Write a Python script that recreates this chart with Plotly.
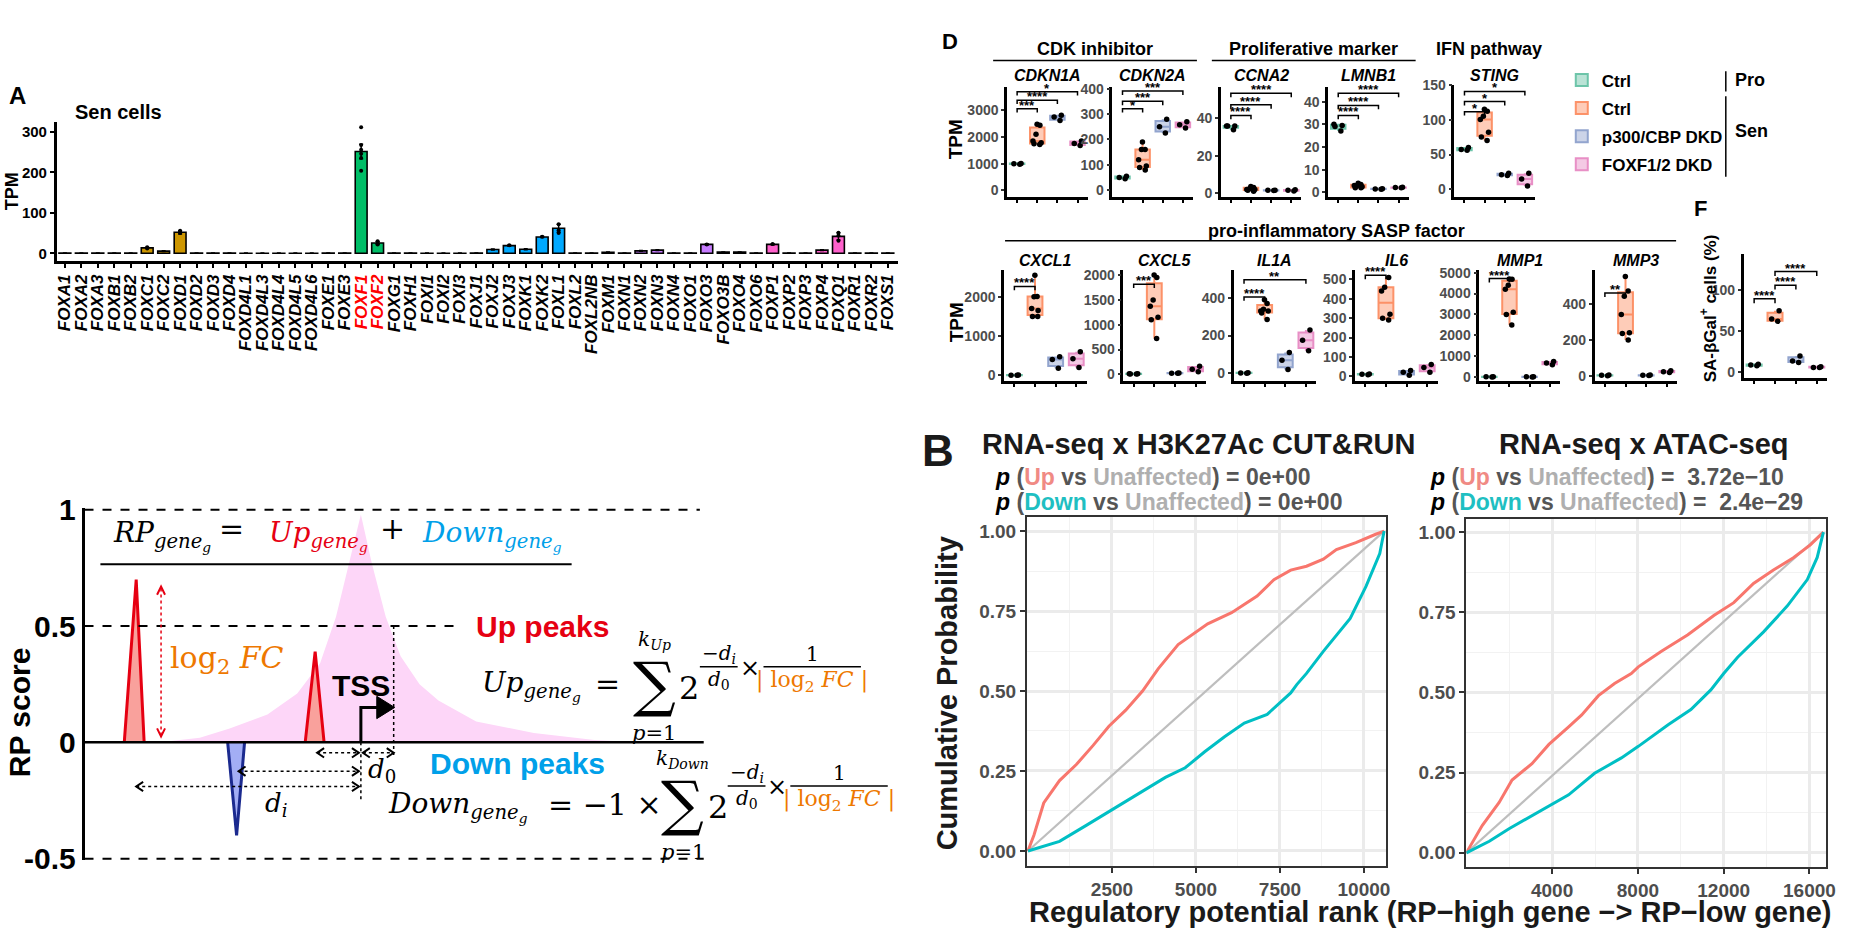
import plotly.graph_objects as go

W, H = 1872, 952
SANS = "Liberation Sans, Arial, Helvetica, sans-serif"
SERIF = "DejaVu Serif, Liberation Serif, serif"

# ---------------- Panel A : FOX genes in Sen cells ----------------
fox_genes = ["FOXA1", "FOXA2", "FOXA3", "FOXB1", "FOXB2", "FOXC1", "FOXC2", "FOXD1", "FOXD2", "FOXD3",
             "FOXD4", "FOXD4L1", "FOXD4L3", "FOXD4L4", "FOXD4L5", "FOXD4L6", "FOXE1", "FOXE3", "FOXF1", "FOXF2",
             "FOXG1", "FOXH1", "FOXI1", "FOXI2", "FOXI3", "FOXJ1", "FOXJ2", "FOXJ3", "FOXK1", "FOXK2",
             "FOXL1", "FOXL2", "FOXL2NB", "FOXM1", "FOXN1", "FOXN2", "FOXN3", "FOXN4", "FOXO1", "FOXO3",
             "FOXO3B", "FOXO4", "FOXO6", "FOXP1", "FOXP2", "FOXP3", "FOXP4", "FOXQ1", "FOXR1", "FOXR2", "FOXS1"]
tpm_mean = [0.5, 0.4, 0.4, 0.4, 0.6, 13.5, 5.5, 52, 0.5, 0.4,
            0.5, 0.3, 0.3, 0.3, 0.3, 0.3, 0.4, 0.4, 252, 25.5,
            0.4, 0.5, 0.3, 0.3, 0.3, 0.4, 9.5, 19, 10, 40.5,
            62, 0.5, 0.6, 2.5, 0.4, 6, 8, 0.4, 0.6, 22,
            3, 3, 0.5, 22, 0.5, 0.4, 8, 42, 0.4, 0.4, 0.4]
tpm_sd = [0.2, 0.2, 0.2, 0.2, 0.2, 1.5, 1.0, 4, 0.2, 0.2,
          0.2, 0.2, 0.2, 0.2, 0.2, 0.2, 0.2, 0.2, 18, 4,
          0.2, 0.2, 0.2, 0.2, 0.2, 0.2, 1.0, 1.5, 1.0, 1.5,
          10, 0.2, 0.2, 0.5, 0.2, 0.8, 0.8, 0.2, 0.2, 1.5,
          0.5, 0.5, 0.2, 1.5, 0.2, 0.2, 1.0, 9, 0.2, 0.2, 0.2]
pt_gene = ["FOXC1", "FOXC1", "FOXD1", "FOXD1", "FOXD1", "FOXF1", "FOXF1", "FOXF1", "FOXF1", "FOXF1", "FOXF1",
           "FOXF2", "FOXF2", "FOXF2", "FOXJ3", "FOXK2", "FOXL1", "FOXL1", "FOXL1", "FOXO3", "FOXP1",
           "FOXQ1", "FOXQ1", "FOXQ1"]
pt_tpm = [12, 15, 50, 56, 52, 312, 268, 256, 246, 236, 204,
          30, 22, 25, 20, 41, 72, 57, 50, 22, 23,
          51, 44, 31]
highlight_genes = ["FOXF1", "FOXF2"]
family_colors = ["#F8766D", "#CD9600", "#7CAE00", "#00BE67", "#00BFC4", "#00A9FF", "#C77CFF", "#FF61CC"]
family_of_letter = {"A": 0, "B": 0, "C": 1, "D": 1, "E": 2, "F": 3, "G": 4, "H": 4, "I": 4,
                    "J": 5, "K": 5, "L": 5, "M": 6, "N": 6, "O": 6, "P": 7, "Q": 7, "R": 7, "S": 7}

# ---------------- Panel D / F : boxplots ----------------
group_labels = ["Ctrl", "Ctrl", "p300/CBP DKD", "FOXF1/2 DKD"]
group_colors = ["#66C2A5", "#FC8D62", "#8DA0CB", "#E78AC3"]
CDKN1A = [[980, 1000, 1010], [2480, 2440, 2100, 1850, 1780, 1750, 1720], [2620, 2820, 2750], [1680, 1850, 1760]]
CDKN2A = [[45, 55, 50], [190, 160, 160, 120, 95, 90, 80], [280, 225, 250], [270, 245, 258]]
CCNA2 = [[34, 36, 36, 36], [1, 2, 3, 2, 1.5, 2.5, 3.5], [1.5, 1.6, 1.4], [1.2, 1.8, 1.5]]
LMNB1 = [[30, 29, 27, 29.5], [2, 3.5, 3, 2.5, 4, 2, 3], [1.5, 1.6, 1.4], [2, 2.2, 2.1]]
STING = [[57, 60, 56], [115, 112, 105, 100, 82, 75, 70], [20, 23, 21], [5, 23, 15]]
CXCL1 = [[5, 0, 3], [2550, 2010, 2000, 1700, 1650, 1500, 1500], [470, 180, 400], [600, 200, 420]]
CXCL5 = [[10, 5, 12, 8], [2000, 1950, 1500, 1370, 1150, 1100, 720], [20, 25, 22], [160, 50, 100]]
IL1A = [[2, 1, 3], [390, 370, 340, 330, 330, 320, 285], [110, 20, 70], [230, 120, 175]]
IL6 = [[10, 8, 12], [510, 460, 440, 320, 300, 290], [30, 5, 20], [60, 20, 45]]
MMP1 = [[20, 25, 15], [4700, 4680, 4400, 4200, 3100, 3000, 2500], [20, 15, 18], [750, 600, 680]]
MMP3 = [[5, 3, 6], [550, 470, 440, 340, 240, 235, 200], [5, 4, 6], [30, 20, 25]]
SA_bGal = [[8, 9, 10], [62, 65, 75], [20, 12, 14], [6, 7, 6]]

# ---------------- Panel B : cumulative distributions ----------------
rank_up_L = [0, 180, 470, 940, 1440, 1940, 2410, 2910, 3410, 3880, 4470, 5350, 6060, 6820, 7320, 7820, 8290, 8790, 9180, 9760, 10350, 10600]
cum_up_L = [0, 0.05, 0.15, 0.22, 0.27, 0.33, 0.39, 0.44, 0.50, 0.57, 0.645, 0.71, 0.745, 0.797, 0.848, 0.878, 0.89, 0.912, 0.942, 0.964, 0.99, 1.0]
rank_dn_L = [0, 940, 1735, 2530, 3290, 4090, 4680, 5260, 5850, 6440, 7120, 7410, 7820, 8000, 8290, 8790, 9590, 10060, 10470, 10600]
cum_dn_L = [0, 0.03, 0.08, 0.13, 0.18, 0.23, 0.26, 0.31, 0.357, 0.40, 0.427, 0.454, 0.494, 0.52, 0.555, 0.624, 0.727, 0.827, 0.93, 1.0]
rank_un_L = [0, 10600]
cum_un_L = [0, 1.0]
rank_up_R = [0, 740, 1530, 2130, 3060, 3850, 4770, 5380, 6160, 6910, 7690, 8020, 9080, 10330, 11540, 12470, 13390, 14320, 15250, 16040, 16650]
cum_up_R = [0, 0.085, 0.157, 0.227, 0.278, 0.338, 0.393, 0.43, 0.49, 0.528, 0.559, 0.58, 0.628, 0.68, 0.74, 0.78, 0.84, 0.882, 0.92, 0.96, 1.0]
rank_dn_R = [0, 1070, 1990, 3060, 4120, 4770, 5980, 7230, 8020, 9410, 10470, 11400, 12000, 12650, 13860, 14970, 15900, 16360, 16650]
cum_dn_R = [0, 0.036, 0.075, 0.115, 0.157, 0.181, 0.248, 0.296, 0.332, 0.399, 0.447, 0.508, 0.559, 0.61, 0.689, 0.77, 0.852, 0.921, 1.0]
rank_un_R = [0, 16650]
cum_un_R = [0, 1.0]
ticks_L = [2500, 5000, 7500, 10000]
ticks_R = [4000, 8000, 12000, 16000]

# ---------------- RP score schematic ----------------
pink_x = [160, 200, 230, 268, 298, 321, 337, 350, 362, 373, 387, 402, 421, 440, 478, 536, 597, 640]
pink_y = [0, 0.02, 0.06, 0.12, 0.21, 0.34, 0.54, 0.77, 0.98, 0.77, 0.54, 0.37, 0.25, 0.18, 0.09, 0.04, 0.01, 0.0]
up_peak1_x = [124, 136, 144]
up_peak1_y = [0, 0.70, 0]
up_peak2_x = [306, 316, 325]
up_peak2_y = [0, 0.39, 0]
down_peak_x = [228, 237, 245]
down_peak_y = [0, -0.40, 0]
rp_ticks = [-0.5, 0, 0.5, 1]
rp_ticktext = ["-0.5", "0", "0.5", "1"]

# =====================================================================
fig = go.Figure()
annotations, shapes, axes = [], [], {}


def px_x(p):
    return p / W


def px_y(p):
    return 1 - p / H


def dom_x(l, r):
    return [l / W, r / W]


def dom_y(t, b):
    return [1 - b / H, 1 - t / H]


def rgba(hexc, a):
    h = hexc.lstrip('#')
    return f"rgba({int(h[0:2], 16)},{int(h[2:4], 16)},{int(h[4:6], 16)},{a})"


def ann(x, y, text, size=16, color="black", bold=True, italic=False, xanchor="center", yanchor="middle",
        family=SANS, angle=0):
    annotations.append(dict(x=px_x(x), y=px_y(y), xref="paper", yref="paper", text=text, showarrow=False,
                            font=dict(family=family, size=size, color=color,
                                      weight="bold" if bold else "normal",
                                      style="italic" if italic else "normal"),
                            xanchor=xanchor, yanchor=yanchor, textangle=angle))


def pline(x0, y0, x1, y1, width=2, color="black", dash="solid"):
    shapes.append(dict(type="line", xref="paper", yref="paper", x0=px_x(x0), x1=px_x(x1),
                       y0=px_y(y0), y1=px_y(y1), line=dict(color=color, width=width, dash=dash)))


def add_axes(i, xl, xr, yt, yb, xcfg, ycfg):
    sx = "" if i == 1 else str(i)
    axes["xaxis" + sx] = dict(domain=dom_x(xl, xr), anchor="y" + sx, **xcfg)
    axes["yaxis" + sx] = dict(domain=dom_y(yt, yb), anchor="x" + sx, **ycfg)
    return "x" + sx, "y" + sx


# ---------------- Panel A ----------------
n = len(fox_genes)
bar_colors = [family_colors[family_of_letter[g[3]]] for g in fox_genes]
ticktext = [f"<span style='color:#FF0000'>{g}</span>" if g in highlight_genes else g for g in fox_genes]
xa, ya = add_axes(1, 56, 902, 110, 254,
                  dict(range=[-0.5, 50.6], tickvals=list(range(n)), ticktext=ticktext, tickangle=-90,
                       tickfont=dict(family=SANS, size=17, color="black", weight="bold", style="italic"),
                       showline=True, linecolor="black", linewidth=2.5, ticks="outside", ticklen=4,
                       tickcolor="black", tickwidth=1.5, showgrid=False, zeroline=False),
                  dict(range=[-19, 326], tickvals=[0, 100, 200, 300],
                       tickfont=dict(family=SANS, size=15, color="black", weight="bold"),
                       showline=True, linecolor="black", linewidth=2.5, ticks="outside", ticklen=4,
                       tickcolor="black", tickwidth=1.5, showgrid=False, zeroline=False))
fig.add_trace(go.Bar(x=list(range(n)), y=tpm_mean, width=0.72, xaxis=xa, yaxis=ya, showlegend=False,
                     marker=dict(color=bar_colors, line=dict(color="black", width=1.6)),
                     error_y=dict(type="data", array=tpm_sd, color="black", thickness=1.5, width=2)))
fig.add_trace(go.Scatter(x=[fox_genes.index(g) for g in pt_gene], y=pt_tpm, mode="markers", xaxis=xa, yaxis=ya,
                         marker=dict(color="black", size=4), showlegend=False))
ann(17, 83, "A", size=24)
ann(118, 100, "Sen cells", size=20)
ann(11, 182, "TPM", size=18, angle=-90)


# ---------------- Panel D & F ----------------
def box_panel(i, groups, xl, xr, yt, yb, yrange, yticks, title=None, title_y=None, brackets=()):
    xa, ya = add_axes(i, xl, xr, yt, yb,
                      dict(range=[-0.5, 3.5], tickvals=[0, 1, 2, 3], showticklabels=False, showline=True,
                           linecolor="black", linewidth=2.5, ticks="outside", ticklen=3, tickwidth=1.5,
                           tickcolor="black", showgrid=False, zeroline=False),
                      dict(range=yrange, tickvals=yticks, showline=True, linecolor="black", linewidth=2.5,
                           ticks="outside", ticklen=3, tickwidth=1.5, tickcolor="#333333",
                           tickfont=dict(family=SANS, size=14, color="#4D4D4D", weight="bold"),
                           showgrid=False, zeroline=False))
    for g, vals in enumerate(groups):
        fig.add_trace(go.Box(x=[g] * len(vals), y=vals, xaxis=xa, yaxis=ya, width=0.72,
                             fillcolor=rgba(group_colors[g], 0.45),
                             line=dict(color=rgba(group_colors[g], 0.95), width=2),
                             marker=dict(color="black", size=5.5), boxpoints="all", jitter=0.7, pointpos=0,
                             whiskerwidth=0, name=group_labels[g], legendgroup=f"g{g}",
                             showlegend=(i == 2), hoverinfo="skip"))
    span = yrange[1] - yrange[0]
    for a, b, lab, frac in brackets:
        yv = yrange[0] + frac * span
        tk = 0.035 * span
        shapes.append(dict(type="path", xref=xa, yref=ya,
                           path=f"M {a},{yv - tk} L {a},{yv} L {b},{yv} L {b},{yv - tk}",
                           line=dict(color="black", width=1.5)))
        annotations.append(dict(x=(a + b) / 2, y=yv, xref=xa, yref=ya, text=lab, showarrow=False,
                                yanchor="bottom", yshift=-6,
                                font=dict(family=SANS, size=13, color="black", weight="bold")))
    if title:
        ann((xl + xr) / 2, title_y, title, size=16, italic=True)


box_panel(2, CDKN1A, 1012, 1093, 74, 188, [-255, 3890], [0, 1000, 2000, 3000], "CDKN1A", 62,
          [(0, 1, "***", 0.80), (0, 2, "****", 0.877), (0, 3, "*", 0.954)])
box_panel(3, CDKN2A, 1118, 1199, 74, 188, [-27, 408], [0, 100, 200, 300, 400], "CDKN2A", 62,
          [(0, 1, "*", 0.80), (0, 2, "***", 0.867), (0, 3, "***", 0.96)])
box_panel(4, CCNA2, 1227, 1308, 74, 188, [-2.1, 57], [0, 20, 40], "CCNA2", 62,
          [(0, 1, "****", 0.74), (0, 2, "****", 0.836), (0, 3, "****", 0.94)])
box_panel(5, LMNB1, 1335, 1416, 74, 188, [-2.1, 46.6], [0, 10, 20, 30, 40], "LMNB1", 62,
          [(0, 1, "****", 0.74), (0, 2, "****", 0.83), (0, 3, "****", 0.94)])
box_panel(6, STING, 1462, 1543, 72, 188, [-11, 150], [0, 50, 100, 150], "STING", 62,
          [(0, 1, "*", 0.76), (0, 2, "*", 0.85), (0, 3, "*", 0.94)])
box_panel(7, CXCL1, 1009, 1092, 263, 378, [-148, 2690], [0, 1000, 2000], "CXCL1", 254,
          [(0, 1, "****", 0.85)])
box_panel(8, CXCL5, 1129, 1212, 263, 378, [-137, 2109], [0, 500, 1000, 1500, 2000], "CXCL5", 254,
          [(0, 1, "***", 0.87)])
box_panel(9, IL1A, 1240, 1323, 263, 378, [-41, 549], [0, 200, 400], "IL1A", 254,
          [(0, 1, "****", 0.756), (0, 3, "**", 0.91)])
box_panel(10, IL6, 1362, 1445, 263, 378, [-25, 550], [0, 100, 200, 300, 400, 500], "IL6", 254,
          [(0, 1, "****", 0.95)])
box_panel(11, MMP1, 1487, 1568, 263, 378, [-185, 5139], [0, 1000, 2000, 3000, 4000, 5000], "MMP1", 254,
          [(0, 1, "****", 0.92)])
box_panel(12, MMP3, 1603, 1686, 263, 378, [-27, 587], [0, 200, 400], "MMP3", 254,
          [(0, 1, "**", 0.79)])
box_panel(13, SA_bGal, 1753, 1837, 247, 375, [-7, 143.5], [0, 50, 100], None, None,
          [(0, 1, "****", 0.64), (1, 2, "****", 0.75), (1, 3, "****", 0.86)])

ann(955, 27, "D", size=22)
ann(1100, 35, "CDK inhibitor", size=18)
pline(998, 47, 1203, 47, width=1.5)
ann(1320, 35, "Proliferative marker", size=18)
pline(1218, 47, 1423, 47, width=1.5)
ann(1497, 35, "IFN pathway", size=18)
ann(1343, 223, "pro-inflammatory SASP factor", size=18)
pline(1010, 233, 1685, 233, width=1.5)
ann(961, 128, "TPM", size=19, angle=-90)
ann(961, 317, "TPM", size=19, angle=-90)
ann(1710, 200, "F", size=22)
ann(1718, 303, "SA-βGal<sup>+</sup> cells (%)", size=17, angle=-90)
pline(1735, 58, 1735, 79, width=1.5)
pline(1735, 84, 1735, 167, width=1.5)
ann(1742, 67, "Pro", size=18, xanchor="left")
ann(1742, 120, "Sen", size=18, xanchor="left")

# ---------------- Panel B ----------------
grid_major = dict(showgrid=True, gridcolor="#EBEBEB", gridwidth=2.5, zeroline=False, showline=True, mirror=True,
                  linecolor="#333333", linewidth=2, ticks="outside", ticklen=5, tickwidth=2, tickcolor="#333333",
                  tickfont=dict(family=SANS, size=19, color="#4D4D4D", weight="bold"))
yB = dict(tickvals=[0, 0.25, 0.5, 0.75, 1], ticktext=["0.00", "0.25", "0.50", "0.75", "1.00"],
          minor=dict(tickvals=[0.125, 0.375, 0.625, 0.875], showgrid=True, gridcolor="#F2F2F2", gridwidth=1.3, ticks=""))
xL, yL = add_axes(14, 1032, 1393, 518, 879,
                  dict(range=[-30, 10650], tickvals=ticks_L, ticktext=[str(t) for t in ticks_L],
                       minor=dict(tickvals=[1250, 3750, 6250, 8750], showgrid=True, gridcolor="#F2F2F2",
                                  gridwidth=1.3, ticks=""), **grid_major),
                  dict(range=[-0.048, 1.045], **yB, **grid_major))
xR, yR = add_axes(15, 1474, 1836, 520, 880,
                  dict(range=[0, 16780], tickvals=ticks_R, ticktext=[str(t) for t in ticks_R],
                       minor=dict(tickvals=[2000, 6000, 10000, 14000], showgrid=True, gridcolor="#F2F2F2",
                                  gridwidth=1.3, ticks=""), **grid_major),
                  dict(range=[-0.045, 1.042], **yB, **grid_major))
for (xu, yu, xd, yd, xn, yn, xa_, ya_) in [(rank_up_L, cum_up_L, rank_dn_L, cum_dn_L, rank_un_L, cum_un_L, xL, yL),
                                          (rank_up_R, cum_up_R, rank_dn_R, cum_dn_R, rank_un_R, cum_un_R, xR, yR)]:
    fig.add_trace(go.Scatter(x=xn, y=yn, mode="lines", line=dict(color="#BEBEBE", width=2.2),
                             xaxis=xa_, yaxis=ya_, showlegend=False))
    fig.add_trace(go.Scatter(x=xu, y=yu, mode="lines", line=dict(color="#F8766D", width=3),
                             xaxis=xa_, yaxis=ya_, showlegend=False))
    fig.add_trace(go.Scatter(x=xd, y=yd, mode="lines", line=dict(color="#00BFC4", width=3),
                             xaxis=xa_, yaxis=ya_, showlegend=False))


def pline_text(kind, value):
    col = "#F08A84" if kind == "Up" else "#1FBFC2"
    return ("<i>p</i> <span style='color:#555555'>(</span>"
            f"<span style='color:{col}'>{kind}</span><span style='color:#555555'> vs </span>"
            "<span style='color:#AFAFAF'>Unaffected</span>"
            f"<span style='color:#555555'>) = {value}</span>")


ann(943, 450, "B", size=44, color="#1a1a1a")
ann(1205, 443, "RNA-seq x H3K27Ac CUT&amp;RUN", size=29, color="#1a1a1a")
ann(998, 477, pline_text("Up", "0e+00"), size=23, xanchor="left")
ann(998, 503, pline_text("Down", "0e+00"), size=23, xanchor="left")
ann(1653, 443, "RNA-seq x ATAC-seq", size=29, color="#1a1a1a")
ann(1435, 477, pline_text("Up", "&nbsp;3.72e\u221210"), size=23, xanchor="left")
ann(1435, 503, pline_text("Down", "&nbsp;2.4e\u221229"), size=23, xanchor="left")
ann(952, 700, "Cumulative Probability", size=29, color="#1a1a1a", angle=-90)
ann(1437, 926, "Regulatory potential rank (RP\u2212high gene \u2212&gt; RP\u2212low gene)", size=29, color="#1a1a1a")

# ---------------- RP score schematic ----------------
xs, ys = add_axes(16, 84, 707, 509, 873,
                  dict(range=[84, 707], visible=False, showgrid=False, zeroline=False),
                  dict(range=[-0.508, 1.008], tickvals=rp_ticks, ticktext=rp_ticktext, showline=True,
                       linecolor="black", linewidth=2.5, ticks="", showgrid=False, zeroline=False,
                       tickfont=dict(family=SANS, size=30, color="black", weight="bold")))
fig.add_trace(go.Scatter(x=pink_x, y=pink_y, mode="lines", fill="tozeroy", fillcolor="#FDD6F8",
                         line=dict(width=0, color="#FDD6F8"), xaxis=xs, yaxis=ys, showlegend=False))
for px_, py_, fc, lc in [(up_peak1_x, up_peak1_y, "#F9A19C", "#E60012"),
                         (up_peak2_x, up_peak2_y, "#F9A19C", "#E60012"),
                         (down_peak_x, down_peak_y, "#A3AEF5", "#1B2A8F")]:
    fig.add_trace(go.Scatter(x=px_, y=py_, mode="lines", fill="toself", fillcolor=fc,
                             line=dict(color=lc, width=3), xaxis=xs, yaxis=ys, showlegend=False))


def dline(x0, y0, x1, y1, width=2, color="black", dash="solid"):
    shapes.append(dict(type="line", xref=xs, yref=ys, x0=x0, x1=x1, y0=y0, y1=y1,
                       line=dict(color=color, width=width, dash=dash)))


def dpath(path, color="black", width=1.5, fill=None):
    shapes.append(dict(type="path", xref=xs, yref=ys, path=path, line=dict(color=color, width=width),
                       fillcolor=fill if fill else "rgba(0,0,0,0)"))


dline(84, 1.0, 703, 1.0, dash="dash")
dline(84, 0.5, 463, 0.5, dash="dash")
dline(84, -0.5, 707, -0.5, dash="dash")
dline(84, 0, 707, 0, width=2.5)
# log2FC arrow (dotted, two heads)
dline(161, 0.03, 161, 0.66, color="#E60012", width=1.5, dash="dot")
dpath("M 157,0.635 L 161,0.67 L 165,0.635", color="#E60012", width=2)
dpath("M 157,0.06 L 161,0.025 L 165,0.06", color="#E60012", width=2)
# TSS arrow
fig.add_trace(go.Scatter(x=[362, 362, 380], y=[0, 0.15, 0.15], mode="lines", line=dict(color="black", width=3),
                         xaxis=xs, yaxis=ys, showlegend=False))
dpath("M 396,0.15 L 378,0.198 L 378,0.102 Z", color="black", width=1, fill="black")
# distance guides
dline(395, 0.5, 395, -0.058, width=1.5, dash="dot")
dline(362, 0, 362, -0.254, width=1.5, dash="dot")
for x0, x1, yv in [(318, 360, -0.045), (364, 395, -0.045), (239, 360, -0.124), (136, 360, -0.19)]:
    dline(x0, yv, x1, yv, width=1.5, dash="dot")
    dpath(f"M {x0 + 7},{yv + 0.02} L {x0},{yv} L {x0 + 7},{yv - 0.02}", width=2)
    dpath(f"M {x1 - 7},{yv + 0.02} L {x1},{yv} L {x1 - 7},{yv - 0.02}", width=2)

ann(18, 720, "RP score", size=30, angle=-90)
ann(168, 665, "log<sub>2</sub> <i>FC</i>", size=30, color="#EE7800", bold=False, xanchor="left", family=SERIF)
ann(362, 692, "TSS", size=30)
ann(476, 631, "Up peaks", size=30, color="#E60012", xanchor="left")
ann(430, 773, "Down peaks", size=30, color="#00A0E9", xanchor="left")
ann(383, 780, "<i>d</i><sub>0</sub>", size=26, bold=False, family=SERIF)
ann(277, 815, "<i>d<sub>i</sub></i>", size=26, bold=False, family=SERIF)

GSUB = "<sub><i>gene</i><sub><i>g</i></sub></sub>"
ann(111, 537, "<i>RP</i>" + GSUB, size=28, bold=False, xanchor="left", family=SERIF)
ann(232, 530, "=", size=30, bold=False, family=SERIF)
ann(268, 537, "<i>Up</i>" + GSUB, size=28, bold=False, color="#E60012", xanchor="left", family=SERIF)
ann(394, 530, "+", size=30, bold=False, family=SERIF)
ann(421, 537, "<i>Down</i>" + GSUB, size=28, bold=False, color="#00A0E9", xanchor="left", family=SERIF)
pline(100, 567, 574, 567, width=2)


def sum_block(sx, sy, kname, ex, fx):
    ann(sx, sy, "\u2211", size=60, bold=False, family=SERIF)
    ann(sx, sy - 46, f"<i>k<sub>{kname}</sub></i>", size=20, bold=False, family=SERIF)
    ann(sx, sy + 50, "<i>p</i>=1", size=21, bold=False, family=SERIF)
    ann(sx + 35, sy + 4, "2", size=32, bold=False, family=SERIF)
    ann(ex, sy - 31, "\u2212<i>d<sub>i</sub></i>", size=20, bold=False, family=SERIF)
    pline(ex - 19, sy - 18, ex + 19, sy - 18, width=1.5)
    ann(ex, sy - 4, "<i>d</i><sub>0</sub>", size=20, bold=False, family=SERIF)
    ann(ex + 31, sy - 17, "\u00d7", size=24, bold=False, family=SERIF)
    ann(fx, sy - 31, "1", size=20, bold=False, family=SERIF)
    pline(fx - 49, sy - 18, fx + 49, sy - 18, width=1.5)
    ann(fx, sy - 3, "| log<sub>2</sub> <i>FC</i> |", size=22, bold=False, color="#EE7800", family=SERIF)


ann(482, 692, "<i>Up</i>" + GSUB, size=28, bold=False, xanchor="left", family=SERIF)
ann(610, 690, "=", size=30, bold=False, family=SERIF)
sum_block(657, 691, "Up", 722, 816)
ann(387, 817, "<i>Down</i>" + GSUB, size=28, bold=False, xanchor="left", family=SERIF)
ann(608, 815, "= \u22121 \u00d7", size=30, bold=False, family=SERIF)
sum_block(686, 814, "Down", 750, 843)

# ---------------- layout ----------------
fig.update_layout(
    width=W, height=H, margin=dict(l=0, r=0, t=0, b=0),
    paper_bgcolor="white", plot_bgcolor="white",
    font=dict(family=SANS, color="black"),
    annotations=annotations, shapes=shapes,
    showlegend=True,
    legend=dict(x=1570 / W, y=1 - 49 / H, xanchor="left", yanchor="top", bgcolor="rgba(0,0,0,0)",
                font=dict(family=SANS, size=17, color="black", weight="bold"), tracegroupgap=3),
    **axes,
)
fig.write_html("out.html", config={"displayModeBar": False},
               post_script="document.body.style.margin='0';document.body.style.overflow='hidden';")
